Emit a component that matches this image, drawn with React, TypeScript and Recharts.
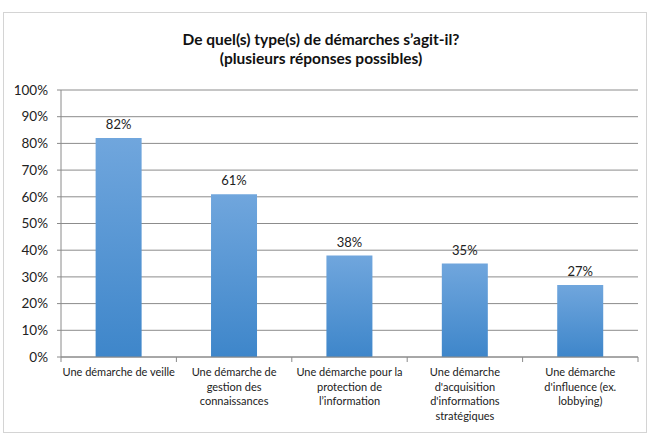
import { Bar, BarChart, CartesianGrid, LabelList, XAxis, YAxis } from "recharts";

const categories = [
  "Une démarche de veille",
  "Une démarche de\ngestion des\nconnaissances",
  "Une démarche pour la\nprotection de\nl’information",
  "Une démarche\nd'acquisition\nd'informations\nstratégiques",
  "Une démarche\nd'influence (ex.\nlobbying)",
];
const shares = [82, 61, 38, 35, 27];
const yTicks = [0, 10, 20, 30, 40, 50, 60, 70, 80, 90, 100];

const data = categories.map((name, i) => ({ name, value: shares[i] }));

const FONT = "Lato, 'Open Sans', sans-serif";

// eslint-disable-next-line @typescript-eslint/no-explicit-any
const CategoryTick = ({ x, y, payload, index, visibleTicksCount }: any) => {
  const lines = String(payload.value).split("\n");
  const half = payload.offset ?? 0;
  return (
    <g>
      <line x1={x - half} x2={x - half} y1={y - 8} y2={y - 3} stroke="#8a8a8a" />
      {index === visibleTicksCount - 1 && (
        <line x1={x + half} x2={x + half} y1={y - 8} y2={y - 3} stroke="#8a8a8a" />
      )}
      <text x={x} y={y + 11} textAnchor="middle" fill="#222" fontSize={11} fontFamily={FONT}>
        {lines.map((l, i) => (
          <tspan key={i} x={x} dy={i === 0 ? 0 : 14.5}>
            {l}
          </tspan>
        ))}
      </text>
    </g>
  );
};

export default function App() {
  return (
    <div style={{ position: "absolute", left: 0, top: 0, width: 658, height: 436, background: "#fff" }}>
      <div
        style={{
          position: "absolute",
          left: 3,
          top: 12,
          width: 642,
          height: 419,
          border: "1px solid #d4d4d4",
        }}
      />
      <div
        style={{
          position: "absolute",
          left: 0,
          top: 30,
          width: 642,
          textAlign: "center",
          fontFamily: FONT,
          fontWeight: 700,
          fontSize: 15.5,
          lineHeight: "19px",
          color: "#111",
        }}
      >
        De quel(s) type(s) de démarches s’agit-il?
        <br />
        (plusieurs réponses possibles)
      </div>
      <div style={{ position: "absolute", left: 0, top: 0 }}>
        <BarChart
          width={658}
          height={436}
          data={data}
          margin={{ top: 90, right: 20, bottom: 9, left: 11 }}
          barCategoryGap="30%"
        >
          <defs>
            <linearGradient id="barFill" x1="0" y1="0" x2="0" y2="1">
              <stop offset="0%" stopColor="#70a6dd" />
              <stop offset="100%" stopColor="#3e86ca" />
            </linearGradient>
          </defs>
          <CartesianGrid vertical={false} stroke="#8c8c8c" />
          <XAxis
            dataKey="name"
            interval={0}
            height={70}
            tickLine={false}
            axisLine={{ stroke: "#8a8a8a" }}
            tick={<CategoryTick />}
          />
          <YAxis
            width={50}
            domain={[0, 100]}
            ticks={yTicks}
            tickFormatter={(v) => `${v}%`}
            tick={{ fill: "#222", fontSize: 13.5, fontFamily: FONT }}
            tickLine={{ stroke: "#8a8a8a" }}
            tickSize={4}
            tickMargin={9}
            axisLine={{ stroke: "#8a8a8a" }}
          />
          <Bar dataKey="value" fill="url(#barFill)" isAnimationActive={false}>
            <LabelList
              dataKey="value"
              position="top"
              offset={9}
              formatter={(v: number) => `${v}%`}
              style={{ fill: "#222", fontSize: 13, fontFamily: FONT }}
            />
          </Bar>
        </BarChart>
      </div>
    </div>
  );
}
